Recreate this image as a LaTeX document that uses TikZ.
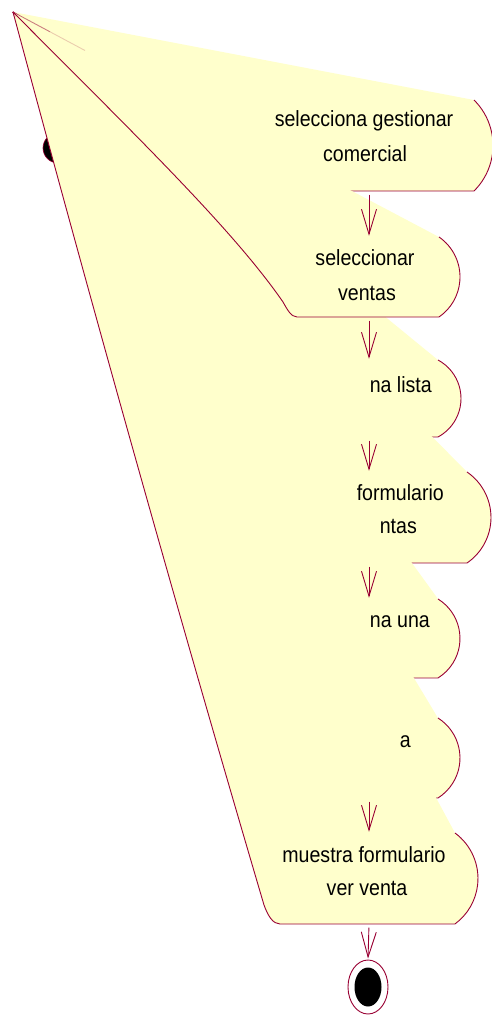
\documentclass[tikz,border=0pt]{standalone}
\usepackage{graphicx}
\usepackage{fontspec}
\setmainfont{Liberation Sans}
\usetikzlibrary{arrows.meta,shapes.geometric}
\definecolor{rosered}{RGB}{153,0,51}
\definecolor{actfill}{RGB}{255,255,204}
\newcommand{\nartxt}[1]{\scalebox{0.89}[1]{#1}}
\tikzset{
  edge/.style={draw=rosered, line width=0.9pt},
  actbg/.style={fill=actfill},
  lbl/.style={font=\fontsize{22pt}{34pt}\selectfont, inner sep=0pt, text=black},
  arr/.style={draw=rosered, line width=0.9pt, -{Straight Barb[length=25pt,width=15pt]}, shorten <=3.5pt, shorten >=1pt},
  statebox/.style={inner sep=0pt, minimum width=10pt}
}
\begin{document}
\begin{tikzpicture}[x=1pt,y=1pt]
\useasboundingbox (0,0) rectangle (492,-1019);

% initial state (mostly hidden)
\node[circle, fill=black, draw=rosered, line width=0.6pt, minimum size=30pt, inner sep=0pt] (init) at (58,-148) {};

% action 1
\fill[actbg] (13,-12) -- (474,-100) arc[start angle=45.33,end angle=-45.33,radius=63.98pt] -- (300,-191) .. controls (293,-191) and (290,-188) .. (288,-185) -- cycle;
\draw[edge] (474,-100) arc[start angle=45.33,end angle=-45.33,radius=63.98pt] -- (300,-191) .. controls (293,-191) and (290,-188) .. (288,-185) -- (13,-12);
\node[statebox, minimum height=91pt] (a1) at (369,-145.5) {};
\node[lbl, anchor=base] (t1a) at (364,-127) {\nartxt{selecciona gestionar}};
\node[lbl, anchor=base] (t1b) at (365,-162) {\nartxt{comercial}};

% action 3
\fill[actbg] (13,-12) -- (438,-360) arc[start angle=61.7,end angle=-61.7,radius=43.72pt] -- (300,-437) .. controls (294,-437) and (292,-432) .. (290,-427) -- cycle;
\draw[edge] (438,-360) arc[start angle=61.7,end angle=-61.7,radius=43.72pt] -- (300,-437) .. controls (294,-437) and (292,-432) .. (290,-427) -- (13,-12);
\node[statebox, minimum height=77pt] (a3) at (369,-398.5) {};

% action 4
\fill[actbg] (13,-12) -- (467,-472) arc[start angle=55.6,end angle=-55.6,radius=55.14pt] -- (300,-563) .. controls (294,-563) and (292,-558) .. (291,-553) -- cycle;
\draw[edge] (467,-472) arc[start angle=55.6,end angle=-55.6,radius=55.14pt] -- (300,-563) .. controls (294,-563) and (292,-558) .. (291,-553) -- (13,-12);
\node[statebox, minimum height=91pt] (a4) at (369,-517.5) {};

% action 5
\fill[actbg] (13,-12) -- (438,-599) arc[start angle=58.2,end angle=-58.2,radius=46.46pt] -- (300,-678) .. controls (294,-678) and (292,-673) .. (291,-668) -- cycle;
\draw[edge] (438,-599) arc[start angle=58.2,end angle=-58.2,radius=46.46pt] -- (300,-678) .. controls (294,-678) and (292,-673) .. (291,-668) -- (13,-12);
\node[statebox, minimum height=79pt] (a5) at (369,-638.5) {};

% action 6
\fill[actbg] (13,-12) -- (438,-718) arc[start angle=57.6,end angle=-57.6,radius=47.36pt] -- (300,-798) .. controls (294,-798) and (292,-793) .. (291,-788) -- cycle;
\draw[edge] (438,-718) arc[start angle=57.6,end angle=-57.6,radius=47.36pt] -- (300,-798) .. controls (294,-798) and (292,-793) .. (291,-788) -- (13,-12);
\node[statebox, minimum height=80pt] (a6) at (369,-758) {};

% action 2
\fill[actbg] (13,-12) -- (439,-237) arc[start angle=55.4,end angle=-55.4,radius=48.6pt] -- (297,-317) .. controls (291,-317) and (287,-309) .. (283,-302) .. controls (232,-228) and (130,-130) .. (13,-12) -- cycle;
\draw[edge] (439,-237) arc[start angle=55.4,end angle=-55.4,radius=48.6pt] -- (297,-317) .. controls (291,-317) and (287,-309) .. (283,-302) .. controls (232,-228) and (130,-130) .. (13,-12);
\draw[draw=rosered, line width=0.9pt, opacity=0.5] (13,-12) -- (50,-31.8);
\draw[draw=rosered, line width=0.9pt, opacity=0.2] (50,-31.8) -- (85,-50.5);
\node[statebox, minimum height=80pt] (a2) at (369,-277) {};
\node[lbl, anchor=base] (t2a) at (365,-265) {\nartxt{seleccionar}};
\node[lbl, anchor=base] (t2b) at (367,-300) {\nartxt{ventas}};

% action 7
\fill[actbg] (13,-12) -- (455,-833) arc[start angle=53.6,end angle=-53.6,radius=56.5pt] -- (280,-924) .. controls (273,-924) and (268,-916) .. (264,-905) .. controls (180,-620) and (95,-318) .. (13,-12) -- cycle;
\draw[edge] (455,-833) arc[start angle=53.6,end angle=-53.6,radius=56.5pt] -- (280,-924) .. controls (273,-924) and (268,-916) .. (264,-905) .. controls (180,-620) and (95,-318) .. (13,-12);
\node[statebox, minimum height=91pt] (a7) at (369,-878.5) {};
\node[lbl, anchor=base] (t7a) at (364,-862) {\nartxt{muestra formulario}};
\node[lbl, anchor=base] (t7b) at (367,-895) {\nartxt{ver venta}};

% visible fragments of the partly covered labels
\node[lbl, anchor=base east] (t3a) at (432,-392) {\nartxt{na lista}};
\node[lbl, anchor=base east] (t4a) at (444,-500) {\nartxt{formulario}};
\node[lbl, anchor=base east] (t4b) at (417,-533) {\nartxt{ntas}};
\node[lbl, anchor=base east] (t5a) at (430,-627) {\nartxt{na una}};
\node[lbl, anchor=base east] (t6a) at (411,-747) {\nartxt{a}};

% final state
\node[ellipse, draw=rosered, line width=0.9pt, fill=white, minimum width=40pt, minimum height=54pt, inner sep=0pt] (fin) at (368,-987) {};
\fill[black] (fin.center) ellipse [x radius=13.5pt, y radius=19.5pt];

% transitions
\draw[arr] (a1.south) -- (a2.north);
\draw[arr] (a2.south) -- (a3.north);
\draw[arr] (a3.south) -- (a4.north);
\draw[arr] (a4.south) -- (a5.north);
\draw[arr] (a6.south) -- (a7.north);
\draw[arr] (a7.south) -- (fin.north);
\end{tikzpicture}
\end{document}
